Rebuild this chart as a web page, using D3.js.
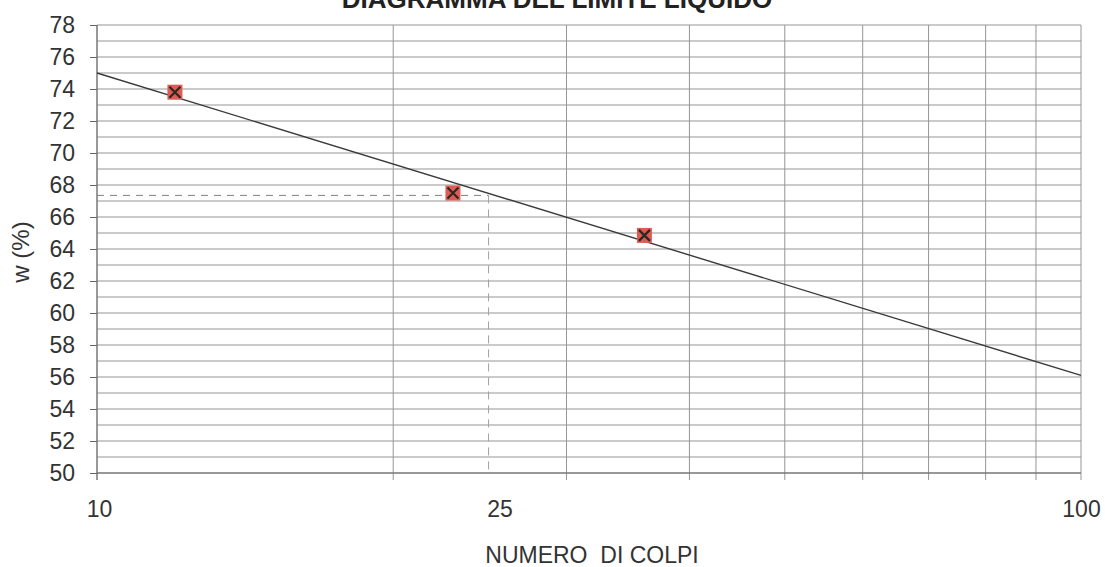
<!DOCTYPE html>
<html><head><meta charset="utf-8">
<script src="https://cdn.jsdelivr.net/npm/d3@7"></script>
<style>
body{margin:0;background:#fff;}
svg{display:block;font-family:"Liberation Sans",Arial,sans-serif;}
</style></head>
<body><svg id="c" width="1105" height="567"></svg>
<script>
// Data
const title = "DIAGRAMMA DEL LIMITE LIQUIDO";
const xLabel = "NUMERO  DI COLPI";
const yLabel = "w (%)";
const pointsN = [12, 23, 36];
const pointsW = [73.8, 67.5, 64.85];
const fitN = [10, 100];
const fitW = [75.0, 56.1];
const liquidLimitN = 25;
const liquidLimitW = 67.35;
const xGridValues = [10, 20, 30, 40, 50, 60, 70, 80, 90, 100];
const xTickLabels = [10, 25, 100];
const yMajorTicks = d3.range(50, 79, 2);
const yMinorGrid = d3.range(50, 79, 1);

const svg = d3.select("#c");
const L = 97, R = 1081, T = 25, B = 473;
const x = d3.scaleLog().domain([10, 100]).range([L, R]);
const y = d3.scaleLinear().domain([50, 78]).range([B, T]);

const gridCol = "#969696";
const ff = "'Liberation Sans',Arial,sans-serif";
// horizontal gridlines every 1
svg.append("g").selectAll("line").data(yMinorGrid).join("line")
  .attr("x1", L).attr("x2", R)
  .attr("y1", d => y(d)).attr("y2", d => y(d))
  .attr("stroke", gridCol).attr("stroke-width", 1.1);
// vertical gridlines
svg.append("g").selectAll("line").data(xGridValues).join("line")
  .attr("x1", d => x(d)).attr("x2", d => x(d))
  .attr("y1", T).attr("y2", B + 7)
  .attr("stroke", gridCol).attr("stroke-width", 1);

// y axis
const yAxis = d3.axisLeft(y).tickValues(yMajorTicks).tickSize(7).tickPadding(15).tickFormat(d3.format("d"));
const gy = svg.append("g").attr("transform", `translate(${L},0)`).call(yAxis);
gy.select(".domain").attr("stroke", "#666").attr("d", `M0,${T}V${B + 7}`);
gy.selectAll(".tick line").attr("stroke", "#666");
gy.selectAll(".tick text").attr("font-size", 23).attr("fill", "#333").attr("font-family", ff);

// x axis
const xAxis = d3.axisBottom(x).tickValues(xTickLabels).tickSize(0).tickPadding(28).tickFormat(d3.format("d"));
const gx = svg.append("g").attr("transform", `translate(0,${B})`).call(xAxis);
gx.select(".domain").attr("stroke", "#666").attr("d", `M${L},0H${R}`);
gx.selectAll(".tick text").attr("font-size", 23).attr("fill", "#333").attr("font-family", ff)
  .attr("dx", d => d === 25 ? 11 : (d === 10 ? 2 : 0));

// dashed liquid limit lines
svg.append("line").attr("x1", L).attr("x2", x(liquidLimitN))
  .attr("y1", y(liquidLimitW)).attr("y2", y(liquidLimitW))
  .attr("stroke", "#808080").attr("stroke-width", 1).attr("stroke-dasharray", "7,6");
svg.append("line").attr("x1", x(liquidLimitN)).attr("x2", x(liquidLimitN))
  .attr("y1", y(liquidLimitW)).attr("y2", B)
  .attr("stroke", "#a0a0a0").attr("stroke-width", 1).attr("stroke-dasharray", "8,6");

// fit line
svg.append("path").datum(fitN.map((n, i) => [n, fitW[i]]))
  .attr("d", d3.line().x(d => x(d[0])).y(d => y(d[1])))
  .attr("fill", "none").attr("stroke", "#3a3a3a").attr("stroke-width", 1.4);

// markers
const pts = pointsN.map((n, i) => ({n, w: pointsW[i]}));
const mg = svg.append("g").selectAll("g").data(pts).join("g")
  .attr("transform", d => `translate(${x(d.n)},${y(d.w)})`);
mg.append("rect").attr("x", -7.5).attr("y", -7.5).attr("width", 15).attr("height", 15)
  .attr("fill", "#e05a55");
mg.append("path").attr("d", "M-5.5,-5.5L5.5,5.5M5.5,-5.5L-5.5,5.5")
  .attr("stroke", "#2a2a20").attr("stroke-width", 2.3);

// title
svg.append("text").attr("x", 557).attr("y", 8).attr("text-anchor", "middle")
  .attr("font-size", 26).attr("font-weight", "bold").attr("fill", "#222").text(title);
// axis labels
svg.append("text").attr("x", 592).attr("y", 563).attr("text-anchor", "middle")
  .style("white-space", "pre").attr("xml:space", "preserve")
  .attr("font-size", 23).attr("fill", "#333").text(xLabel);
svg.append("text").attr("transform", "translate(29,252) rotate(-90)").attr("text-anchor", "middle")
  .attr("font-size", 24).attr("fill", "#333").text(yLabel);
</script></body></html>
